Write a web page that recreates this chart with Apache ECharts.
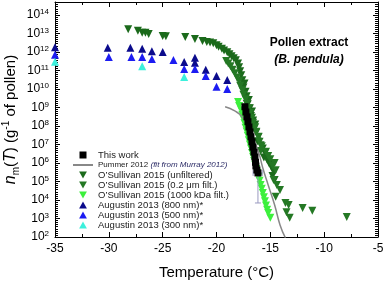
<!DOCTYPE html>
<html>
<head>
<meta charset="utf-8">
<script src="https://cdn.jsdelivr.net/npm/echarts@6/dist/echarts.min.js"></script>
<style>
html, body { margin: 0; padding: 0; background: #fff; }
#myChart { width: 385px; height: 282px; }
</style>
</head>
<body>
<div id="myChart"></div>
<script>
// temperature (°C), n_m (g-1 of pollen)
const thisWork = [
  [-17.36, 1.1e9], [-17.27, 5.7e8], [-17.17, 3.1e8], [-17.08, 1.7e8], [-16.99, 8.9e7],
  [-16.89, 4.8e7], [-16.8, 2.6e7], [-16.71, 1.4e7], [-16.62, 7.2e6], [-16.52, 3.9e6],
  [-16.43, 2.1e6], [-16.38, 1.1e6], [-16.34, 6.9e5], [-16.25, 4.2e5], [-16.15, 2.9e5]
]
// [T, n, Tlow, Thigh, nlow, nhigh]
const thisWorkErr = [[-16.15, 2.9e5, -16.6, -15.75, 6.9e3, 4.0e5]]

const pummerFit = [
  [-19.2, 1.1e9], [-18.3, 6.5e8], [-17.6, 3.1e8], [-17.1, 8.9e7], [-16.6, 2.0e7],
  [-16.1, 3.9e6], [-15.7, 5.4e5], [-15.2, 6.5e4], [-14.6, 5.4e3], [-14.1, 4.5e2], [-13.6, 90]
]

const osUnfiltered = [
  [-28.2, 1.7e13], [-27.3, 1.4e13], [-26.9, 1.1e13], [-26.6, 1.1e13], [-26.3, 9.3e12],
  [-25.0, 7.2e12], [-24.7, 7.0e12], [-22.9, 6.5e12], [-22.0, 5.0e12], [-21.3, 3.9e12],
  [-20.9, 3.5e12], [-20.6, 3.2e12], [-20.3, 3.0e12], [-20.0, 2.3e12], [-19.8, 1.9e12],
  [-19.5, 1.5e12], [-19.3, 1.2e12], [-19.0, 9.5e11], [-18.8, 7.5e11], [-18.6, 5.8e11],
  [-18.4, 4.6e11], [-18.2, 3.6e11], [-18.0, 2.4e11], [-17.9, 1.5e11], [-17.8, 9.0e10],
  [-17.7, 5.5e10], [-17.6, 3.0e10], [-17.4, 2.0e10], [-17.5, 1.2e10], [-17.3, 7.0e9],
  [-17.2, 4.0e9], [-17.0, 2.5e9], [-17.1, 1.5e9], [-16.9, 9.0e8], [-16.7, 6.0e8],
  [-16.8, 3.5e8], [-16.6, 2.0e8], [-16.4, 1.2e8], [-16.5, 7.0e7], [-16.3, 4.5e7],
  [-16.1, 2.5e7], [-16.2, 1.5e7], [-15.9, 9.0e6], [-15.7, 6.0e6], [-15.5, 3.5e6],
  [-15.6, 2.0e6], [-15.3, 1.5e6], [-15.1, 9.0e5], [-14.9, 6.0e5], [-14.7, 3.5e5],
  [-14.8, 2.0e5], [-14.6, 1.2e5]
]

const os02 = [
  [-19.1, 3.2e11], [-18.9, 2.4e11], [-18.7, 1.7e11], [-18.5, 1.1e11], [-18.3, 7.0e10],
  [-18.1, 4.2e10], [-17.9, 2.6e10], [-17.8, 1.5e10], [-17.6, 8.5e9], [-17.5, 4.8e9],
  [-17.3, 2.8e9], [-17.2, 1.6e9], [-17.0, 9.0e8], [-16.9, 5.0e8], [-16.7, 2.8e8],
  [-16.6, 1.5e8], [-16.4, 8.5e7], [-16.3, 4.8e7], [-16.1, 2.6e7], [-16.0, 1.4e7],
  [-15.8, 8.0e6], [-15.9, 4.5e6], [-15.4, 4.0e6], [-15.2, 2.4e6], [-15.0, 1.6e6],
  [-14.6, 1.0e6], [-14.8, 7.0e5], [-14.5, 4.0e5], [-14.7, 1.2e5], [-14.4, 6.5e4],
  [-14.1, 3.5e4], [-14.5, 1.5e4], [-13.6, 6.9e3], [-13.3, 5.4e3], [-13.5, 2.2e3],
  [-13.2, 1.1e3], [-12.0, 3.7e3], [-11.1, 2.6e3], [-7.9, 1.2e3]
]

const os1000 = [
  [-18.0, 2.0e9], [-17.9, 1.2e9], [-17.7, 7.0e8], [-17.6, 4.0e8], [-17.5, 2.4e8],
  [-17.4, 1.4e8], [-17.3, 8.0e7], [-17.2, 5.0e7], [-17.1, 3.0e7], [-17.0, 1.7e7],
  [-16.9, 1.0e7], [-16.8, 6.0e6], [-16.7, 3.5e6], [-16.6, 2.1e6], [-16.5, 1.3e6],
  [-16.4, 7.8e5], [-16.3, 4.8e5], [-16.2, 3.0e5], [-16.1, 1.8e5], [-16.0, 1.1e5],
  [-15.9, 6.5e4], [-15.8, 4.0e4], [-15.7, 2.4e4], [-15.6, 1.4e4], [-15.5, 8.5e3],
  [-15.4, 5.0e3], [-15.3, 3.0e3], [-15.2, 2.0e3], [-15.0, 1.1e3]
]

const aug800 = [
  [-35.0, 1.8e12], [-30.1, 1.7e12], [-28.0, 1.7e12], [-26.9, 1.5e12], [-26.0, 1.1e12],
  [-25.0, 1.0e12], [-23.0, 2.9e11], [-22.0, 4.8e11], [-22.0, 2.6e11], [-21.0, 1.1e11],
  [-20.0, 5.0e10], [-19.0, 3.1e10]
]
const aug500 = [
  [-35.0, 7.0e11], [-30.0, 5.4e11], [-27.9, 5.4e11], [-26.9, 5.4e11], [-26.0, 4.2e11],
  [-24.0, 3.7e11], [-23.0, 1.2e11], [-22.0, 1.2e11], [-21.0, 5.0e10], [-20.0, 1.3e10],
  [-19.0, 1.0e10]
]
const aug300 = [[-35.0, 3.0e11], [-26.9, 1.7e11], [-23.0, 4.5e10]]

const yExpMin = 2
const yExpMax = 14.7

const toLog = arr => arr.map(p => [p[0], Math.log10(p[1])])
const downTri = 'path://M0,0L10,0L5,9Z'
const upTri = 'path://M5,0L10,9L0,9Z'
const square = 'path://M0,0L10,0L10,10L0,10Z'
const font = 'Liberation Sans'

function scatter(name, data, color, symbol, size) {
  return {
    name: name, type: 'scatter', data: toLog(data), symbol: symbol, symbolSize: size,
    itemStyle: { color: color, opacity: 1 }, clip: true
  }
}

const myChart = echarts.init(document.getElementById('myChart'))

const axisLine = { show: true, lineStyle: { color: '#000', width: 1 } }
const axisTick = { show: true, inside: true, length: 5, lineStyle: { color: '#000' } }
const xMinor = { show: true, splitNumber: 2, length: 3, lineStyle: { color: '#000' } }
const yMinor = { show: true, splitNumber: 9, length: 3, lineStyle: { color: '#000' } }

const option = {
  animation: false,
  textStyle: { fontFamily: font },
  grid: { left: 55, right: 7, top: 2, bottom: 45, outerBoundsMode: 'none', containLabel: false },
  legend: {
    orient: 'vertical', left: 68, top: 145, itemWidth: 20, itemHeight: 7, itemGap: 0,
    symbolKeepAspect: true,
    textStyle: {
      fontFamily: font, fontSize: 9.5, color: '#222', lineHeight: 10,
      rich: {
        p: { fontSize: 8, lineHeight: 10, color: '#222', fontFamily: font },
        it: { fontStyle: 'italic', fontSize: 8, lineHeight: 10, color: '#2b2b66', fontFamily: font }
      }
    },
    formatter: function (name) {
      if (name.indexOf('Pummer') === 0) return '{p|Pummer 2012 }{it|(fit from Murray 2012)}'
      return name
    },
    data: [
      { name: 'This work', icon: square },
      { name: 'Pummer 2012 (fit from Murray 2012)', icon: 'path://M0,0L20,0L20,2L0,2Z' },
      { name: 'O\u2019Sullivan 2015 (unfiltered)', icon: downTri },
      { name: 'O\u2019Sullivan 2015 (0.2 \u03bcm filt.)', icon: downTri },
      { name: 'O\u2019Sullivan 2015 (1000 kDa filt.)', icon: downTri },
      { name: 'Augustin 2013 (800 nm)*', icon: upTri },
      { name: 'Augustin 2013 (500 nm)*', icon: upTri },
      { name: 'Augustin 2013 (300 nm)*', icon: upTri }
    ]
  },
  xAxis: [
    {
      type: 'value', min: -35, max: -5, interval: 5,
      name: 'Temperature (\u00b0C)', nameLocation: 'middle', nameGap: 28,
      nameTextStyle: { fontSize: 15, color: '#000', fontFamily: font },
      axisLabel: { fontSize: 12, color: '#000', margin: 6, fontFamily: font },
      axisLine: axisLine, axisTick: axisTick, minorTick: xMinor, splitLine: { show: false }
    },
    {
      type: 'value', min: -35, max: -5, interval: 5, position: 'top',
      axisLabel: { show: false },
      axisLine: axisLine, axisTick: axisTick, minorTick: xMinor, splitLine: { show: false }
    }
  ],
  yAxis: [
    {
      type: 'value', min: yExpMin, max: yExpMax, interval: 1,
      name: '{i|n}{sub|m}({i|T}) (g{sup|-1} of pollen)',
      nameLocation: 'middle', nameGap: 34, nameRotate: 90, nameMoveOverlap: false,
      nameTextStyle: {
        fontSize: 15, color: '#000', fontFamily: font, lineHeight: 20,
        rich: {
          i: { fontStyle: 'italic', fontSize: 16, fontFamily: font, lineHeight: 20 },
          sub: { fontSize: 10, fontFamily: font, verticalAlign: 'bottom', lineHeight: 12 },
          sup: { fontSize: 10, fontFamily: font, verticalAlign: 'top', lineHeight: 11 }
        }
      },
      axisLabel: {
        fontSize: 12, color: '#000', margin: 6, fontFamily: font, lineHeight: 14,
        formatter: function (v) {
          if (Math.abs(v - Math.round(v)) > 1e-6) return ''
          return '10{s|' + Math.round(v) + '}'
        },
        rich: { s: { fontSize: 8, fontFamily: font, verticalAlign: 'top', lineHeight: 8 } }
      },
      axisLine: axisLine, axisTick: axisTick, minorTick: yMinor, splitLine: { show: false }
    },
    {
      type: 'value', min: yExpMin, max: yExpMax, interval: 1, position: 'right',
      axisLabel: { show: false },
      axisLine: axisLine, axisTick: axisTick, minorTick: yMinor, splitLine: { show: false }
    }
  ],
  graphic: [
    { type: 'text', x: 309, y: 43, style: { text: 'Pollen extract', align: 'center', verticalAlign: 'middle', font: 'bold 12px "Liberation Sans"', fill: '#000' } },
    { type: 'text', x: 309, y: 60, style: { text: '(B. pendula)', align: 'center', verticalAlign: 'middle', font: 'italic bold 12px "Liberation Sans"', fill: '#000' } }
  ],
  series: [
    scatter('Augustin 2013 (800 nm)*', aug800, '#0b0b8c', 'triangle', 8),
    scatter('Augustin 2013 (500 nm)*', aug500, '#1c1cf2', 'triangle', 8),
    scatter('Augustin 2013 (300 nm)*', aug300, '#3cf0dc', 'triangle', 8),
    scatter('O\u2019Sullivan 2015 (1000 kDa filt.)', os1000, '#3cf03c', downTri, 8),
    scatter('O\u2019Sullivan 2015 (unfiltered)', osUnfiltered, '#1b6a1b', downTri, 8),
    scatter('O\u2019Sullivan 2015 (0.2 \u03bcm filt.)', os02, '#247824', downTri, 8),
    {
      name: 'Pummer 2012 (fit from Murray 2012)', type: 'line', smooth: true, symbol: 'none',
      data: toLog(pummerFit), clip: true, lineStyle: { color: '#888', width: 1.5 },
      itemStyle: { color: '#888' }, z: 3
    },
    {
      name: 'This work err', type: 'custom', z: 4,
      data: thisWorkErr.map(e => [e[0], Math.log10(e[1]), e[2], e[3], Math.log10(e[4]), Math.log10(e[5])]),
      renderItem: function (params, api) {
        const c = api.coord([api.value(0), api.value(1)])
        const l = api.coord([api.value(2), api.value(1)])
        const r = api.coord([api.value(3), api.value(1)])
        const lo = api.coord([api.value(0), api.value(4)])
        const hi = api.coord([api.value(0), api.value(5)])
        const st = { stroke: '#9a9ac0', lineWidth: 1 }
        return {
          type: 'group',
          children: [
            { type: 'line', shape: { x1: l[0], y1: c[1], x2: r[0], y2: c[1] }, style: st },
            { type: 'line', shape: { x1: l[0], y1: c[1] - 3, x2: l[0], y2: c[1] + 3 }, style: st },
            { type: 'line', shape: { x1: r[0], y1: c[1] - 3, x2: r[0], y2: c[1] + 3 }, style: st },
            { type: 'line', shape: { x1: c[0], y1: lo[1], x2: c[0], y2: hi[1] }, style: st },
            { type: 'line', shape: { x1: c[0] - 3, y1: lo[1], x2: c[0] + 3, y2: lo[1] }, style: st },
            { type: 'line', shape: { x1: c[0] - 3, y1: hi[1], x2: c[0] + 3, y2: hi[1] }, style: st }
          ]
        }
      }
    },
    Object.assign(scatter('This work', thisWork, '#000', 'rect', 7), { z: 5 })
  ]
}

myChart.setOption(option)
</script>
</body>
</html>
